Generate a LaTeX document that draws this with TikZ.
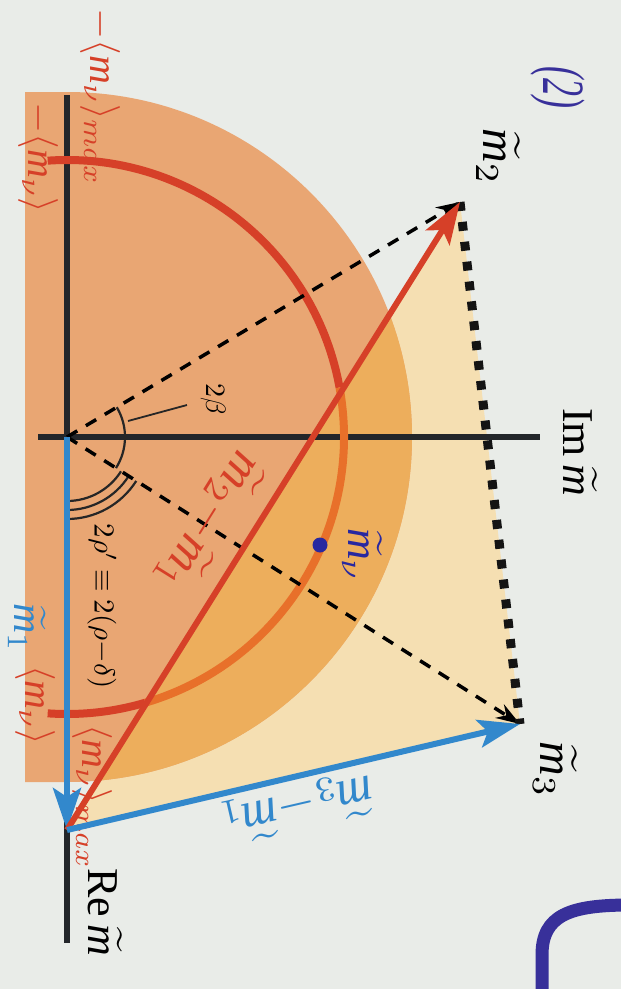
\documentclass[tikz,border=0pt]{standalone}
\usepackage{graphicx}
\usepackage{fontspec}
\setmainfont{Liberation Serif}
\usetikzlibrary{arrows.meta}
\definecolor{bgc}{RGB}{233,236,232}
\definecolor{salmonc}{RGB}{233,166,115}
\definecolor{goldc}{RGB}{237,174,92}
\definecolor{palec}{RGB}{245,223,178}
\definecolor{redc}{RGB}{214,64,40}
\definecolor{orangec}{RGB}{232,112,42}
\definecolor{bluec}{RGB}{50,136,204}
\definecolor{nublue}{RGB}{40,40,160}
\definecolor{axisc}{RGB}{35,38,42}
\definecolor{purplec}{RGB}{56,48,154}
\newcommand{\mi}{\mbox{\itshape m}}
\newcommand{\mt}{\widetilde{\mbox{\itshape m}}}
\begin{document}
\begin{tikzpicture}[x=1pt,y=1pt,
  lbl/.style={inner sep=0pt},
  vlbl/.style={lbl,rotate=-90},
  axisline/.style={draw=axisc,line width=6pt},
  dasharrow/.style={draw=black,line width=3.5pt,dash pattern=on 12pt off 10pt,-{Stealth[length=24pt,width=16pt]}},
  dotline/.style={draw=black!92,line width=9pt,dash pattern=on 9pt off 11pt},
  bigarrow/.style={line width=6pt,-{Stealth[length=42pt,width=28pt,inset=9pt]}},
  anglearc/.style={draw=black!85,line width=2.2pt}
]
\useasboundingbox (0,0) rectangle (621,-989);
\fill[bgc] (0,0) rectangle (621,-989);
% key points
\coordinate (O) at (67,-437);
\coordinate (M1) at (67,-830);
\coordinate (M2) at (460,-202);
\coordinate (M3) at (520,-724);
\coordinate (ReA) at (67,-95);
\coordinate (ReB) at (67,-943);
\coordinate (ImA) at (38,-437);
\coordinate (ImB) at (540,-437);
% triangle
\fill[palec] (M1)--(M2)--(M3)--cycle;
% orange half disk
\fill[salmonc] (25,-92) -- (67,-92) arc[start angle=90,end angle=-90,radius=345] -- (25,-782) -- cycle;
\begin{scope}
  \clip (M1)--(M2)--(M3)--cycle;
  \fill[goldc] (25,-92) -- (67,-92) arc[start angle=90,end angle=-90,radius=345] -- (25,-782) -- cycle;
\end{scope}
% axes
\draw[axisline] (ReA) -- (ReB);
\draw[axisline] (ImA) -- (ImB);
% circle |m| = <m_nu>
\draw[redc,line width=8pt] (O) ++(94:277) arc[start angle=94,end angle=10.3,radius=277];
\draw[orangec,line width=8pt] (O) ++(10.3:277) arc[start angle=10.3,end angle=-73.6,radius=277];
\draw[redc,line width=8pt] (O) ++(-73.6:277) arc[start angle=-73.6,end angle=-94,radius=277];
% labels behind arrows
\node[vlbl,scale=4,text=redc] (lbotmax) at (92,-797) {$\langle \mi_\nu\rangle_{max}$};
\node[vlbl,scale=4,text=redc] (ltopmax) at (100,-97) {$-\langle \mi_\nu\rangle_{max}$};
\node[vlbl,scale=4,text=redc] (ltop) at (38,-158) {$-\langle \mi_\nu\rangle$};
\node[vlbl,scale=4,text=redc] (lmnuR) at (35,-705) {$\langle \mi_\nu\rangle$};
\node[vlbl,scale=4.2,text=bluec] (lm1) at (27,-628) {$\mt_1$};
% angle marks
\draw[anglearc] (O) ++(30.9:58) arc[start angle=30.9,end angle=-32.4,radius=58];
\foreach \r in {64,73,82}
  \draw[anglearc] (O) ++(-90:\r) arc[start angle=-90,end angle=-32.4,radius=\r];
\coordinate (lead) at (128,-421);
\node[vlbl,scale=2.8] (l2b) at (213,-399) {$2\beta$};
\draw[black!85,line width=1.8pt] (lead) -- (187,-405);
\node[vlbl,scale=2.9] (l2rho) at (102,-606) {$2\rho'\equiv2(\rho{-}\delta)$};
% dashed vectors
\draw[dasharrow] (O) -- (M2);
\draw[dasharrow] (O) -- (M3);
\draw[dotline] (M2) -- (M3);
% m_nu point
\fill[nublue] (320,-545) circle (7.5pt);
\node[vlbl,scale=4.4,text=nublue] (lmnu) at (362,-555) {$\mt_\nu$};
% big arrows
\draw[bigarrow,bluec] (O) -- (M1);
\draw[bigarrow,redc] (M1) -- (M2);
\draw[bigarrow,bluec] (M1) -- (M3);
% labels
\node[lbl,rotate=-122,scale=5,text=redc] (lred) at (210,-523) {$\mt_2{-}\mt_1$};
\node[lbl,rotate=193,scale=5,text=bluec] (lblue) at (297,-808) {$\mt_3{-}\mt_1$};
\node[vlbl,scale=4.4] (lIm) at (580,-452) {$\mbox{Im}\,\mt$};
\node[vlbl,scale=4.4] (lRe) at (105,-912) {$\mbox{Re}\,\mt$};
\node[vlbl,scale=4.8] (lm2) at (498,-157) {$\mt_2$};
\node[vlbl,scale=4.8] (lm3) at (555,-770) {$\mt_3$};
\node[vlbl,text=purplec] (l2) at (558,-87) {\scalebox{3.6}[6]{\itshape (2)}};
% handwritten stroke
\draw[purplec,line width=13pt] (542,-995) -- (542,-955) .. controls (542,-915) and (570,-905) .. (630,-905);
\end{tikzpicture}
\end{document}
